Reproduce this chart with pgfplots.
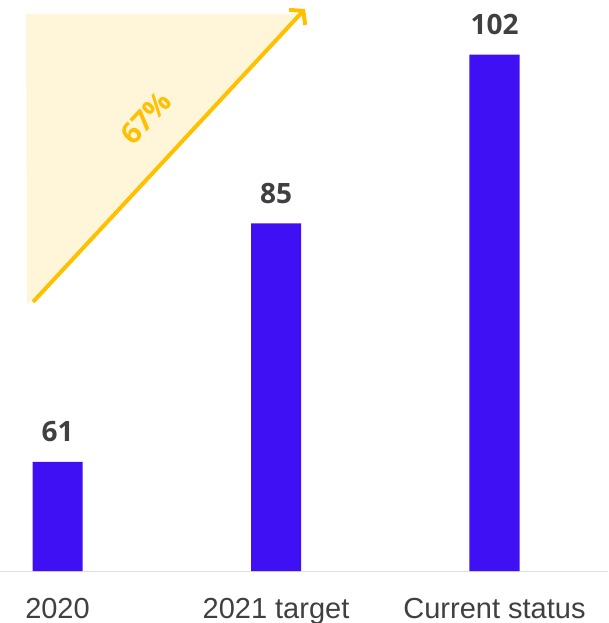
\documentclass[border=0pt]{standalone}
\usepackage{pgfplots}
\pgfplotsset{compat=1.18}
\usepackage{fontspec}
\usetikzlibrary{arrows.meta}
\setmainfont{Liberation Sans}
\newfontfamily\opensans{Open Sans}
\definecolor{barblue}{HTML}{4010F5}
\definecolor{gold}{HTML}{FFC000}
\definecolor{lightgold}{HTML}{FFF5D9}
\definecolor{txt}{HTML}{404040}
\begin{document}
\begin{tikzpicture}
\begin{axis}[
  scale only axis, width=608pt, height=571pt,
  xmin=-0.2632, xmax=2.5195,
  ymin=50, ymax=107.5,
  axis x line=bottom, axis y line=none,
  x axis line style={draw=black!12, line width=1pt, -},
  xtick={0,1,2}, xticklabels={2020, 2021 target, Current status},
  xtick style={draw=none}, ytick=\empty,
  xticklabel style={font=\fontsize{29}{30}\selectfont, text=txt, anchor=base, yshift=-45pt},
  /pgf/number format/assume math mode=true,
]
\addplot[draw=none, fill=lightgold, forget plot, sharp plot] coordinates {(-0.144,106.1) (1.10,106.1) (-0.140,76.8) (-0.144,106.1)} -- cycle;
\addplot[ybar, bar width=50pt, fill=barblue, draw=none,
  nodes near coords,
  every node near coord/.append style={font=\opensans\bfseries\fontsize{28}{30}\selectfont, text=txt, anchor=base, yshift=20pt}]
  coordinates {(0,61) (1,85) (2,102)};
\addplot[gold, line width=4pt, sharp plot, -{Straight Barb[length=9pt,width=22pt]}] coordinates {(-0.112,77.1) (1.133,106.6)};
\node[font=\opensans\bfseries\fontsize{29}{30}\selectfont, text=gold, rotate=47] at (axis cs:0.405,95.6) {67\%};
\end{axis}
\pgfresetboundingbox
\useasboundingbox (current axis.south west) ++(0,-52pt) rectangle (current axis.north east);
\end{tikzpicture}
\end{document}
